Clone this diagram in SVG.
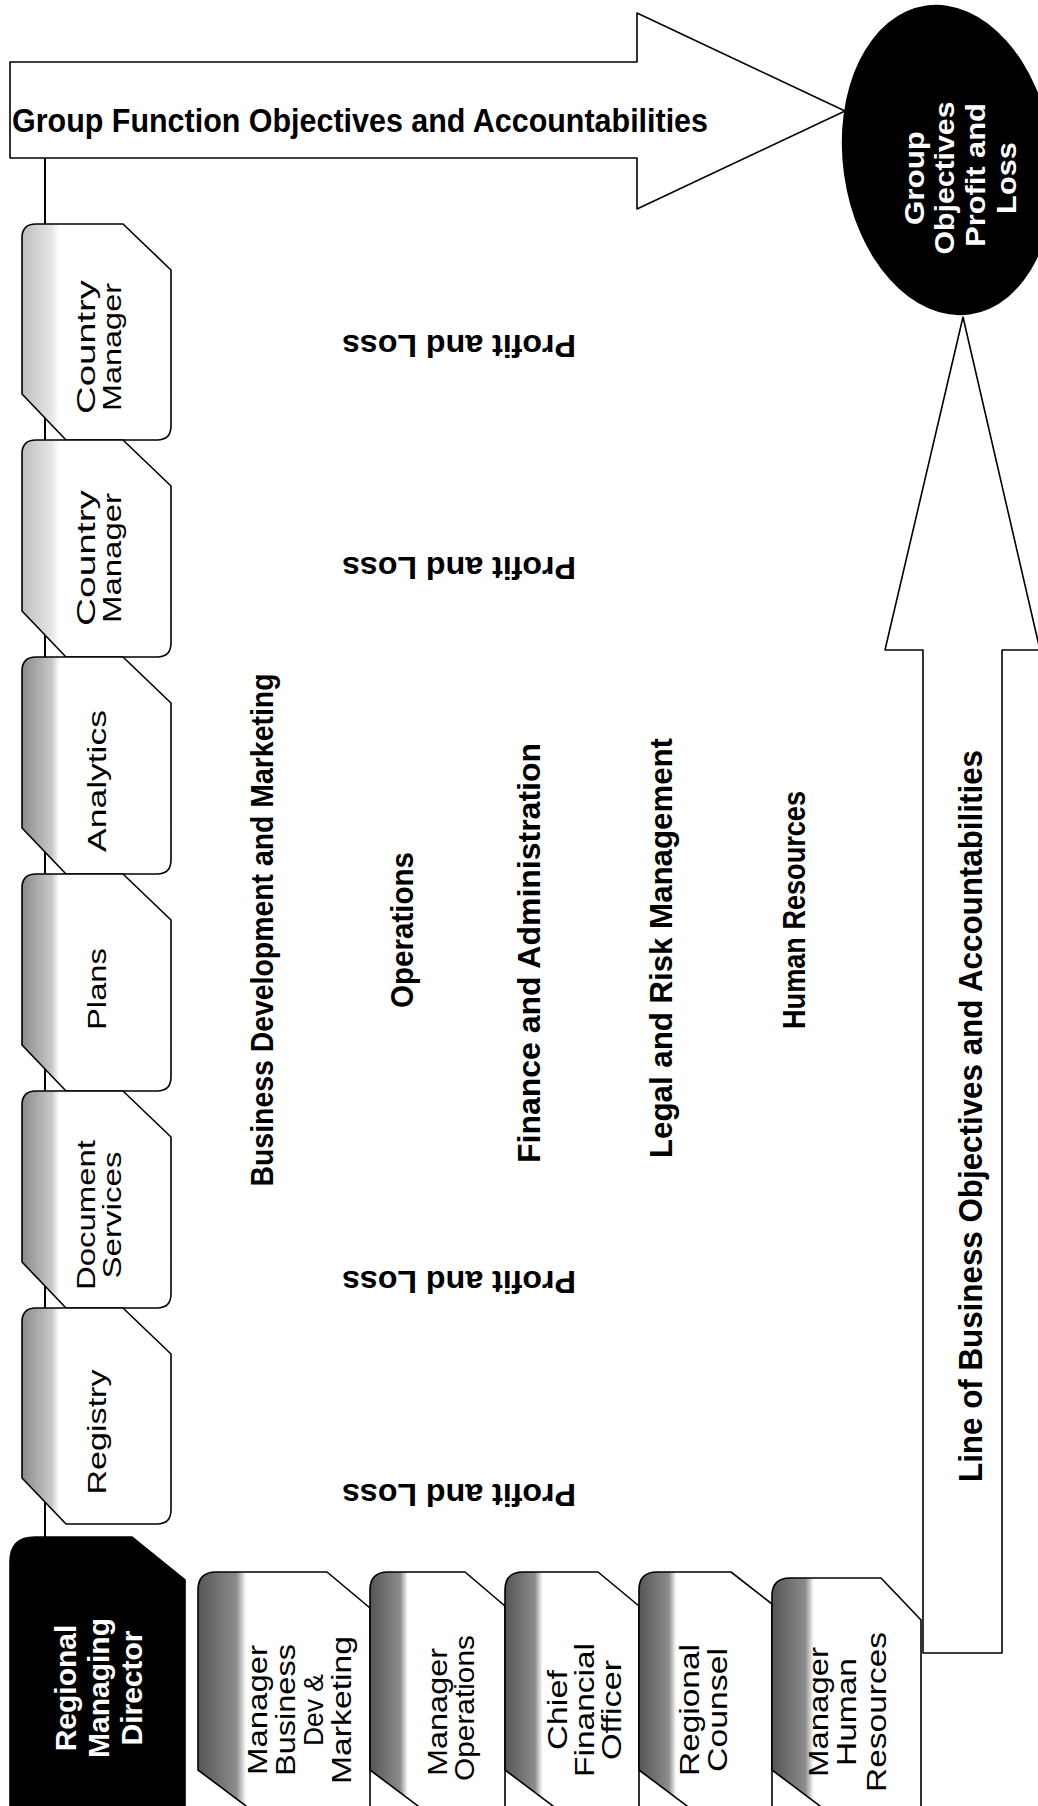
<svg xmlns="http://www.w3.org/2000/svg" width="1038" height="1806" viewBox="0 0 1038 1806">
<defs>
<style>
.ol{fill:#fff;stroke:#000;stroke-width:1.6;stroke-linejoin:round}
.t{font-family:"Liberation Sans",Arial,sans-serif;fill:#000}
.tb{font-family:"Liberation Sans",Arial,sans-serif;font-weight:bold;fill:#000}
.tw{font-family:"Liberation Sans",Arial,sans-serif;font-weight:bold;fill:#fff}
.tn{font-family:"Liberation Sans Narrow","Liberation Sans",Arial,sans-serif;font-weight:bold;font-stretch:condensed;fill:#000}
.conn{stroke:#000;stroke-width:2;fill:none}
</style>
<linearGradient id="gl" x1="0" y1="0" x2="0.25" y2="0">
<stop offset="0" stop-color="#bdbdbd"/><stop offset="0.8" stop-color="#e6e6e6"/><stop offset="1" stop-color="#fff"/>
</linearGradient>
<linearGradient id="gm" x1="0" y1="0" x2="0.25" y2="0">
<stop offset="0" stop-color="#8a8a8a"/><stop offset="0.8" stop-color="#c8c8c8"/><stop offset="1" stop-color="#fff"/>
</linearGradient>
<linearGradient id="gd" x1="0" y1="0" x2="0.28" y2="0">
<stop offset="0" stop-color="#555"/><stop offset="0.8" stop-color="#8c8c8c"/><stop offset="1" stop-color="#fff"/>
</linearGradient>
</defs>
<rect width="1038" height="1806" fill="#fff"/>

<g id="connectors">
<line class="conn" x1="45" y1="158" x2="45" y2="1537"/>
</g>

<g id="arrow-group-function">
<polygon class="ol" points="10,62 637,62 637,13 845,111 637,209 637,158 10,158"/>
<text class="tn" x="12" y="132" font-size="34" textLength="696" lengthAdjust="spacingAndGlyphs">Group Function Objectives and Accountabilities</text>
</g>

<g id="arrow-line-of-business">
<polygon class="ol" points="923,1653 923,650 885,650 963,317 1040,650 1002,650 1002,1653"/>
<text class="tn" font-size="34" text-anchor="middle" textLength="732" lengthAdjust="spacingAndGlyphs" transform="translate(982,1116) rotate(-90)">Line of Business Objectives and Accountabilities</text>
</g>

<g id="group-objectives">
<ellipse cx="948" cy="160" rx="105" ry="156" transform="rotate(-8 948 160)" fill="#000"/>
<g class="tw" font-size="28" text-anchor="middle">
<text transform="translate(924,178) rotate(-90) scale(1.12,1)">Group</text>
<text transform="translate(954,178) rotate(-90) scale(1.08,1)">Objectives</text>
<text transform="translate(985,175) rotate(-90) scale(1.1,1)">Profit and</text>
<text transform="translate(1016,178) rotate(-90) scale(1.1,1)">Loss</text>
</g>
</g>

<g id="tab-country-manager-1">
<path class="ol" style="fill:url(#gl)" d="M22,238 Q22,224 36,224 L123,224 L171,270 L171,426 Q171,440 157,440 L66,440 L22,394 Z"/>
<text class="t" font-size="25" text-anchor="middle" textLength="134" lengthAdjust="spacingAndGlyphs" transform="translate(95,347) rotate(-90)">Country</text>
<text class="t" font-size="25" text-anchor="middle" textLength="128" lengthAdjust="spacingAndGlyphs" transform="translate(121,347) rotate(-90)">Manager</text>
</g>
<g id="tab-country-manager-2">
<path class="ol" style="fill:url(#gl)" d="M22,454 Q22,440 36,440 L123,440 L171,486 L171,643 Q171,657 157,657 L66,657 L22,611 Z"/>
<text class="t" font-size="25" text-anchor="middle" textLength="136" lengthAdjust="spacingAndGlyphs" transform="translate(95,558) rotate(-90)">Country</text>
<text class="t" font-size="25" text-anchor="middle" textLength="130" lengthAdjust="spacingAndGlyphs" transform="translate(121,558) rotate(-90)">Manager</text>
</g>
<g id="tab-analytics">
<path class="ol" style="fill:url(#gm)" d="M22,671 Q22,657 36,657 L123,657 L171,703 L171,860 Q171,874 157,874 L66,874 L22,828 Z"/>
<text class="t" font-size="25" text-anchor="middle" textLength="142" lengthAdjust="spacingAndGlyphs" transform="translate(106,781) rotate(-90)">Analytics</text>
</g>
<g id="tab-plans">
<path class="ol" style="fill:url(#gm)" d="M22,888 Q22,874 36,874 L123,874 L171,920 L171,1077 Q171,1091 157,1091 L66,1091 L22,1045 Z"/>
<text class="t" font-size="25" text-anchor="middle" textLength="82" lengthAdjust="spacingAndGlyphs" transform="translate(106,989) rotate(-90)">Plans</text>
</g>
<g id="tab-document-services">
<path class="ol" style="fill:url(#gm)" d="M22,1105 Q22,1091 36,1091 L123,1091 L171,1137 L171,1294 Q171,1308 157,1308 L66,1308 L22,1262 Z"/>
<text class="t" font-size="25" text-anchor="middle" textLength="150" lengthAdjust="spacingAndGlyphs" transform="translate(95,1215) rotate(-90)">Document</text>
<text class="t" font-size="25" text-anchor="middle" textLength="127" lengthAdjust="spacingAndGlyphs" transform="translate(121,1215) rotate(-90)">Services</text>
</g>
<g id="tab-registry">
<path class="ol" style="fill:url(#gm)" d="M22,1322 Q22,1308 36,1308 L123,1308 L171,1354 L171,1510 Q171,1524 157,1524 L66,1524 L22,1478 Z"/>
<text class="t" font-size="25" text-anchor="middle" textLength="125" lengthAdjust="spacingAndGlyphs" transform="translate(106,1432) rotate(-90)">Registry</text>
</g>

<g id="regional-managing-director">
<path d="M10,1562 Q10,1537 35,1537 L132,1537 L185,1580 L185,1812 L10,1812 Z" fill="#000" stroke="#000" stroke-width="1.6"/>
<g class="tw" font-size="30" text-anchor="middle">
<text transform="translate(76,1688) rotate(-90)">Regional</text>
<text transform="translate(109,1688) rotate(-90)">Managing</text>
<text transform="translate(142,1688) rotate(-90)">Director</text>
</g>
</g>

<g id="tab-manager-bd-marketing">
<path class="ol" style="fill:url(#gd)" d="M198,1590 Q198,1572 216,1572 L327,1572 L370,1608 L370,1812 L254,1812 L198,1770 Z"/>
<g class="t" font-size="27" text-anchor="middle">
<text textLength="130" lengthAdjust="spacingAndGlyphs" transform="translate(267,1710) rotate(-90)">Manager</text>
<text textLength="132" lengthAdjust="spacingAndGlyphs" transform="translate(295,1710) rotate(-90)">Business</text>
<text textLength="72" lengthAdjust="spacingAndGlyphs" transform="translate(323,1710) rotate(-90)">Dev &amp;</text>
<text textLength="148" lengthAdjust="spacingAndGlyphs" transform="translate(351,1710) rotate(-90)">Marketing</text>
</g>
</g>
<g id="tab-manager-operations">
<path class="ol" style="fill:url(#gd)" d="M370,1590 Q370,1572 388,1572 L465,1572 L505,1606 L505,1812 L426,1812 L370,1770 Z"/>
<g class="t" font-size="27" text-anchor="middle">
<text textLength="128" lengthAdjust="spacingAndGlyphs" transform="translate(447,1712) rotate(-90)">Manager</text>
<text textLength="146" lengthAdjust="spacingAndGlyphs" transform="translate(474,1708) rotate(-90)">Operations</text>
</g>
</g>
<g id="tab-chief-financial-officer">
<path class="ol" style="fill:url(#gd)" d="M505,1590 Q505,1572 523,1572 L598,1572 L639,1606 L639,1812 L561,1812 L505,1770 Z"/>
<g class="t" font-size="27" text-anchor="middle">
<text textLength="80" lengthAdjust="spacingAndGlyphs" transform="translate(567,1710) rotate(-90)">Chief</text>
<text textLength="134" lengthAdjust="spacingAndGlyphs" transform="translate(594,1710) rotate(-90)">Financial</text>
<text textLength="100" lengthAdjust="spacingAndGlyphs" transform="translate(621,1710) rotate(-90)">Officer</text>
</g>
</g>
<g id="tab-regional-counsel">
<path class="ol" style="fill:url(#gd)" d="M639,1590 Q639,1572 657,1572 L731,1572 L772,1604 L772,1812 L695,1812 L639,1770 Z"/>
<g class="t" font-size="27" text-anchor="middle">
<text textLength="132" lengthAdjust="spacingAndGlyphs" transform="translate(699,1710) rotate(-90)">Regional</text>
<text textLength="124" lengthAdjust="spacingAndGlyphs" transform="translate(727,1710) rotate(-90)">Counsel</text>
</g>
</g>
<g id="tab-manager-human-resources">
<path class="ol" style="fill:url(#gd)" d="M772,1596 Q772,1578 790,1578 L881,1578 L921,1620 L921,1812 L828,1812 L772,1770 Z"/>
<g class="t" font-size="27" text-anchor="middle">
<text textLength="130" lengthAdjust="spacingAndGlyphs" transform="translate(828,1712) rotate(-90)">Manager</text>
<text textLength="108" lengthAdjust="spacingAndGlyphs" transform="translate(856,1712) rotate(-90)">Human</text>
<text textLength="160" lengthAdjust="spacingAndGlyphs" transform="translate(886,1712) rotate(-90)">Resources</text>
</g>
</g>

<g id="function-labels" class="tb" font-size="31" text-anchor="middle">
<text textLength="513" lengthAdjust="spacingAndGlyphs" transform="translate(273,930) rotate(-90)">Business Development and Marketing</text>
<text textLength="156" lengthAdjust="spacingAndGlyphs" transform="translate(413,930) rotate(-90)">Operations</text>
<text textLength="420" lengthAdjust="spacingAndGlyphs" transform="translate(540,953) rotate(-90)">Finance and Administration</text>
<text textLength="420" lengthAdjust="spacingAndGlyphs" transform="translate(672,948) rotate(-90)">Legal and Risk Management</text>
<text textLength="238" lengthAdjust="spacingAndGlyphs" transform="translate(805,910) rotate(-90)">Human Resources</text>
</g>

<g id="profit-loss-labels" class="tb" font-size="32" text-anchor="middle">
<text textLength="234" lengthAdjust="spacingAndGlyphs" transform="translate(459,335) rotate(180)">Profit and Loss</text>
<text textLength="234" lengthAdjust="spacingAndGlyphs" transform="translate(459,557) rotate(180)">Profit and Loss</text>
<text textLength="234" lengthAdjust="spacingAndGlyphs" transform="translate(459,1271) rotate(180)">Profit and Loss</text>
<text textLength="234" lengthAdjust="spacingAndGlyphs" transform="translate(459,1484) rotate(180)">Profit and Loss</text>
</g>
</svg>
